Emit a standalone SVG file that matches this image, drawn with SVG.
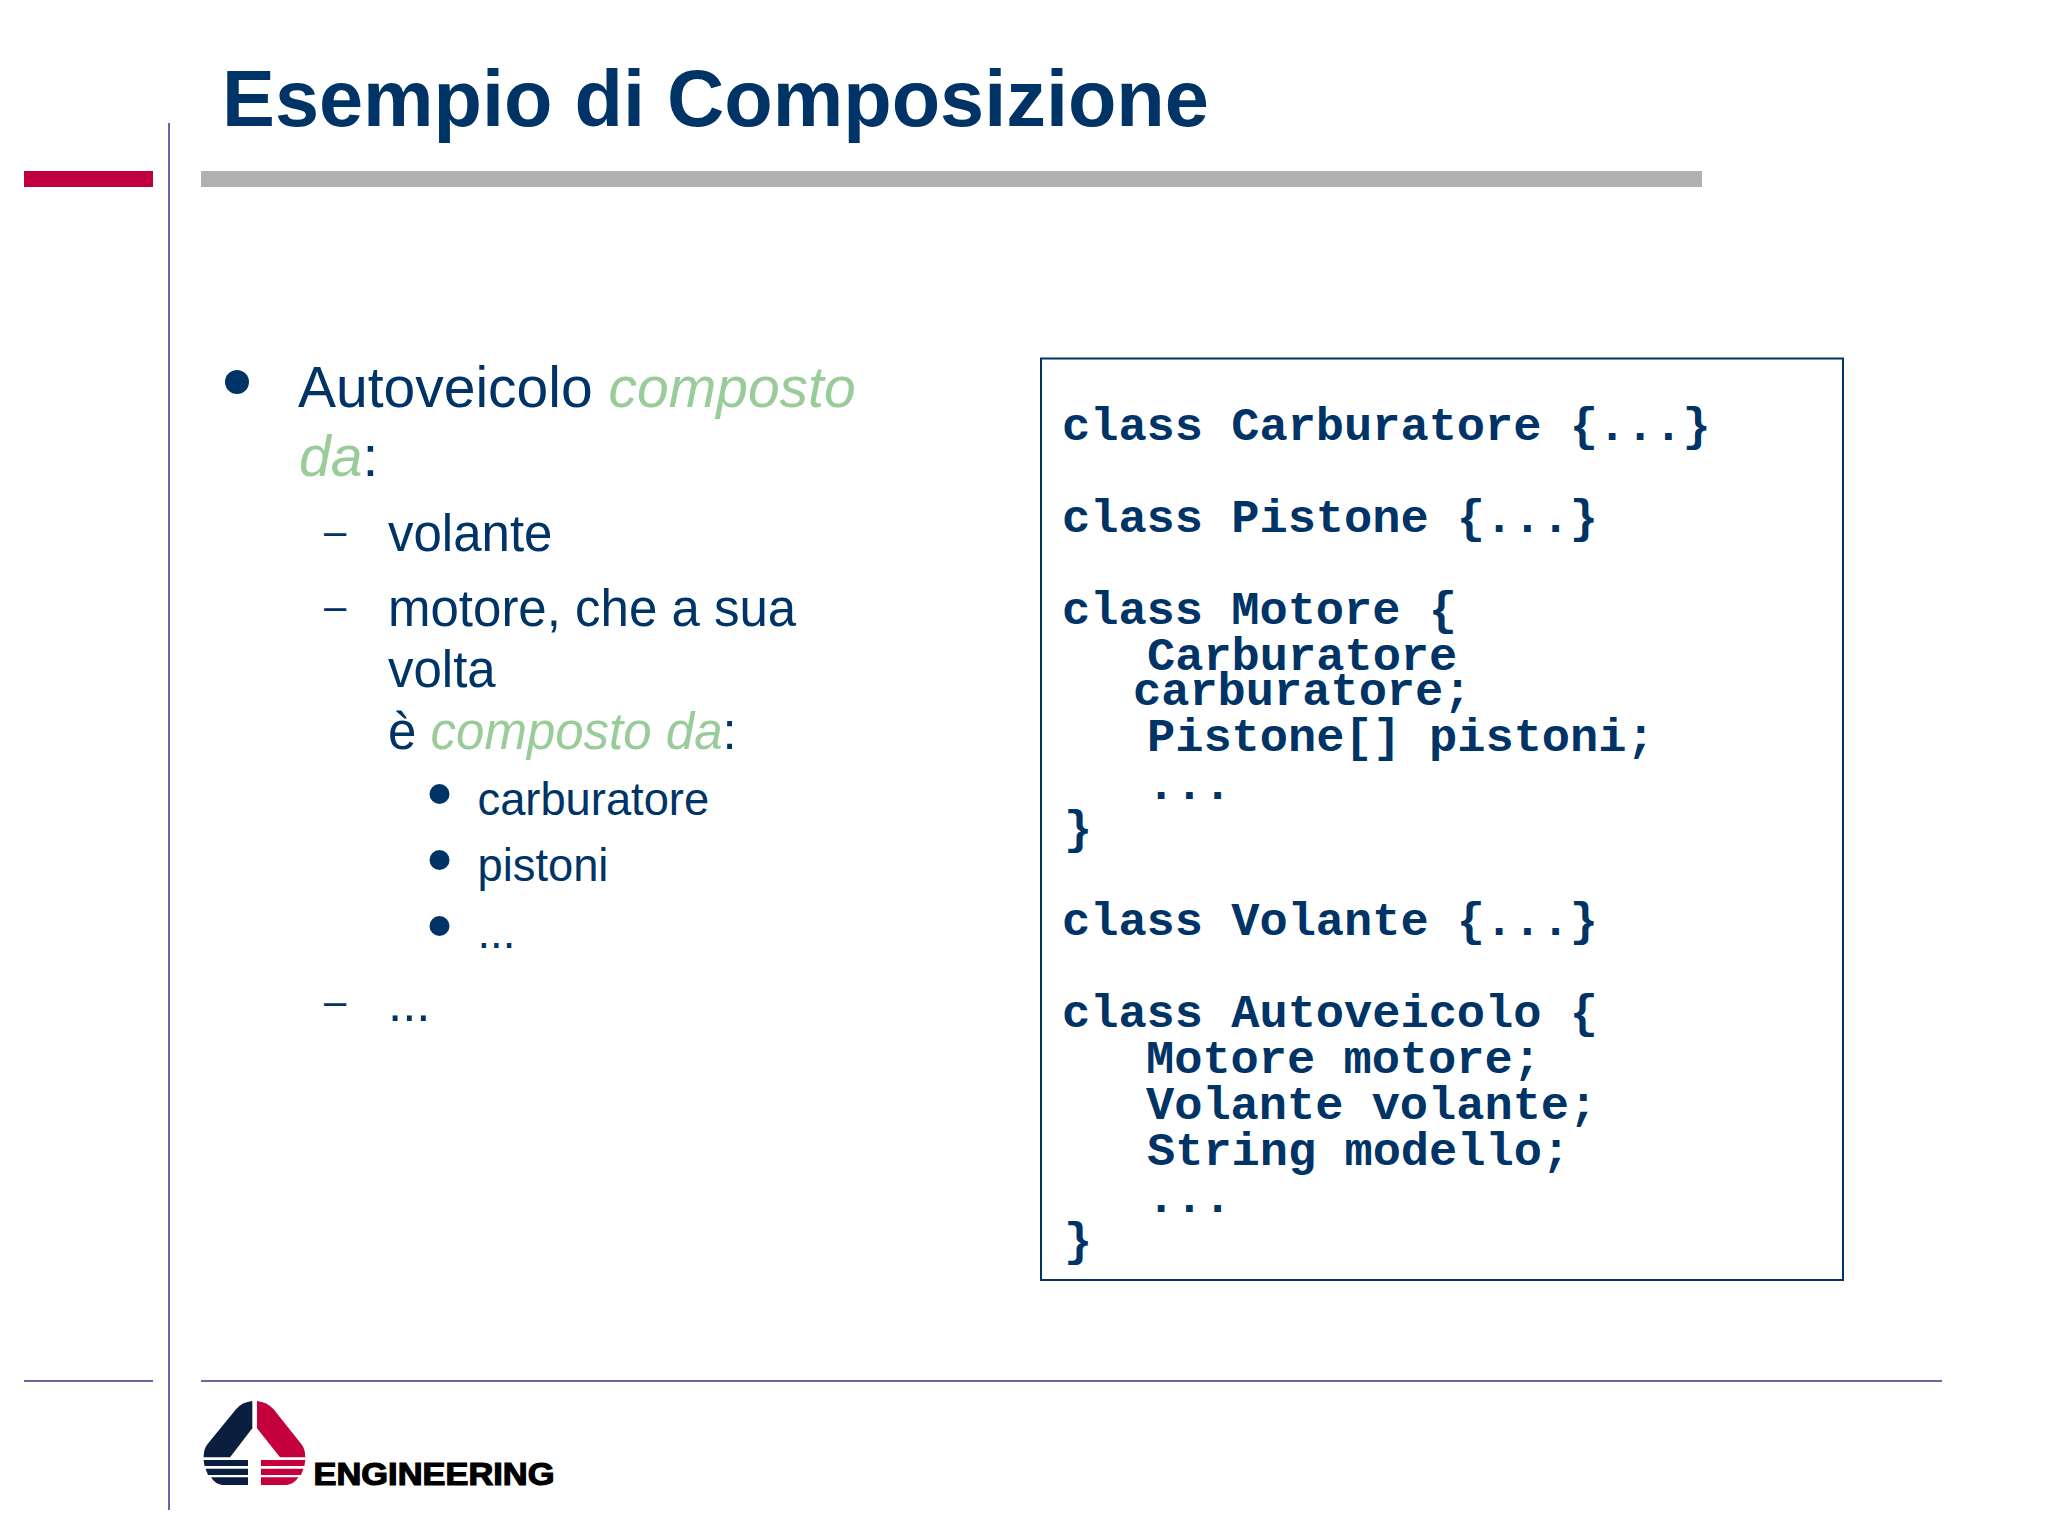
<svg xmlns="http://www.w3.org/2000/svg" width="2048" height="1536" viewBox="0 0 2048 1536">
<style>
text{font-family:"Liberation Sans",Arial,sans-serif;fill:#003366}
.code{font-family:"Liberation Mono","Courier New",monospace;font-weight:700;font-size:47px;white-space:pre}
.l1{font-size:57px}.l2{font-size:51px}.l3{font-size:45.300px}.d{font-size:40px}
.g{fill:#99cc99;font-style:italic}
.rule{fill:#6a66a3}
.bul{fill:#003366}
.n{fill:#0a1f3f}.r{fill:#c4003d}
</style>
<rect width="2048" height="1536" fill="#fff"/>
<g id="frame">
<rect class="rule" x="168" y="123" width="2" height="1387"/>
<rect x="24" y="171" width="129" height="16" fill="#c00040"/>
<rect x="201" y="171" width="1501" height="16" fill="#b2b0b2"/>
<rect class="rule" x="24" y="1380" width="129" height="2"/>
<rect class="rule" x="201" y="1380" width="1741" height="2"/>
</g>
<g id="title"><text x="222" y="126" font-size="79.300" font-weight="700">Esempio di Composizione</text></g>
<g id="bullets">
<circle class="bul" cx="237" cy="382" r="12"/>
<text class="l1" x="298" y="407">Autoveicolo <tspan class="g">composto</tspan></text>
<text class="l1" x="299" y="475.500"><tspan class="g">da</tspan>:</text>
<text class="d" x="324" y="545">–</text>
<text class="l2" x="388" y="551">volante</text>
<text class="d" x="324" y="620">–</text>
<text class="l2" x="388" y="625.500">motore, che a sua</text>
<text class="l2" x="388" y="687">volta</text>
<text class="l2" x="388" y="748.500">è <tspan class="g">composto da</tspan>:</text>
<circle class="bul" cx="439.500" cy="794" r="10"/>
<text class="l3" x="477.500" y="815">carburatore</text>
<circle class="bul" cx="439.500" cy="860" r="10"/>
<text class="l3" x="477.500" y="881">pistoni</text>
<circle class="bul" cx="439.500" cy="926" r="10"/>
<text class="l3" x="477.500" y="948">...</text>
<text class="d" x="324" y="1015">–</text>
<text class="l2" x="388" y="1021">...</text>
</g>
<g id="codebox">
<rect x="1041" y="358.500" width="802" height="921.500" fill="#fff" stroke="#003366" stroke-width="2"/>
<text class="code" x="1062" y="440">class Carburatore {...}</text>
<text class="code" x="1062" y="532">class Pistone {...}</text>
<text class="code" x="1062" y="624">class Motore {</text>
<text class="code" x="1147" y="670">Carburatore</text>
<text class="code" x="1133" y="704.500">carburatore;</text>
<text class="code" x="1147" y="751">Pistone[] pistoni;</text>
<text class="code" x="1147" y="799">...</text>
<text class="code" x="1064" y="842.500">}</text>
<text class="code" x="1062" y="935">class Volante {...}</text>
<text class="code" x="1062" y="1027">class Autoveicolo {</text>
<text class="code" x="1146" y="1073">Motore motore;</text>
<text class="code" x="1146" y="1119">Volante volante;</text>
<text class="code" x="1147" y="1165">String modello;</text>
<text class="code" x="1147" y="1212">...</text>
<text class="code" x="1064" y="1255">}</text>
</g>
<g id="logo">
<path class="n" d="M252.300 1401V1428.300L230.100 1457.300H203.600Q203.600 1449 207.600 1444L236 1409.300Q242 1402 252.300 1401Z"/>
<path class="r" d="M257 1401V1428.300L280 1457.300H305.300Q305.300 1449 301.300 1444L273.600 1409.300Q267 1402 257 1401Z"/>
<path class="n" d="M203.600 1460H248V1466H204.500Z"/>
<path class="n" d="M205.500 1468.700H248V1475H208Z"/>
<path class="n" d="M211 1477.300H248V1485H222Q215 1484 211 1477.300Z"/>
<path class="r" d="M261 1460H305.300L304.400 1466H261Z"/>
<path class="r" d="M261 1468.700H303.500L301 1475H261Z"/>
<path class="r" d="M261 1477.300H298.500Q294 1484 287 1485H261Z"/>
<text x="313.500" y="1485" font-size="31" font-weight="700" style="fill:#000;stroke:#000;stroke-width:1.200px" textLength="241" lengthAdjust="spacingAndGlyphs">ENGINEERING</text>
</g>
</svg>
